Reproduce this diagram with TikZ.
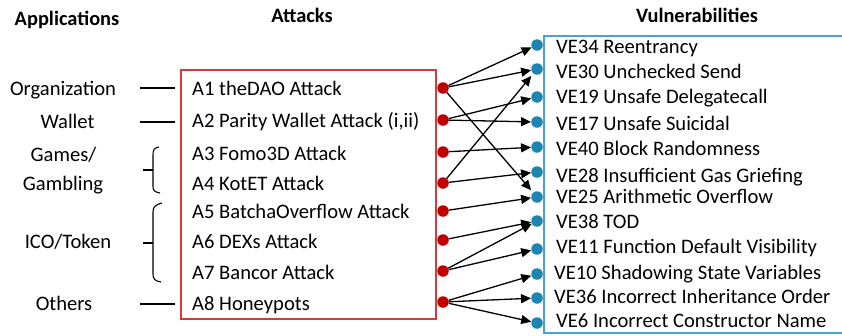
\documentclass[tikz,border=0pt]{standalone}
\usepackage{fontspec}
\setmainfont{Carlito}
\usetikzlibrary{arrows.meta}
\definecolor{rdot}{HTML}{C00000}
\definecolor{rbox}{HTML}{D33B3B}
\definecolor{bdot}{HTML}{1B86B2}
\definecolor{bbox}{HTML}{4AA3C8}
\begin{document}
\begin{tikzpicture}[x=1pt,y=-1pt,
  lbl/.style={font=\fontsize{20.6}{23}\selectfont,inner sep=0pt,anchor=base west},
  clbl/.style={font=\fontsize{20.6}{23}\selectfont,inner sep=0pt,anchor=base},
  ttl/.style={font=\fontsize{20.4}{23}\selectfont\bfseries,inner sep=0pt,anchor=base},
  rd/.style={circle,fill=rdot,inner sep=0pt,minimum size=11.5pt},
  bd/.style={circle,fill=bdot,inner sep=0pt,minimum size=11.5pt},
  arr/.style={line width=1.3pt,-{Triangle[length=10pt,width=9pt]}},
  ln/.style={line width=1.1pt}]
\useasboundingbox (0,0) rectangle (842,335);
% titles
\node[ttl] (tapp) at (67,25) {Applications};
\node[ttl] (tatt) at (302,22) {Attacks};
\node[ttl] (tvul) at (697,22) {Vulnerabilities};
% boxes
\draw[rbox,line width=1.1pt] (181,70) rectangle (436,319);
\draw[bbox,line width=1.3pt] (860,36) -- (544,36) -- (544,333) -- (860,333);
% application labels
\node[clbl] (org) at (63,95) {Organization};
\node[clbl] (wal) at (67.5,128) {Wallet};
\node[clbl] (gam1) at (63.5,161) {Games/};
\node[clbl] (gam2) at (63,190) {Gambling};
\node[clbl] (ico) at (68,248) {ICO/Token};
\node[clbl] (oth) at (64,310) {Others};
\coordinate (o1) at (140,88); \coordinate (o2) at (175,88);
\coordinate (w1) at (140,122); \coordinate (w2) at (175,122);
\coordinate (h1) at (140,304); \coordinate (h2) at (175,304);
\draw[ln] (o1) -- (o2);
\draw[ln] (w1) -- (w2);
\draw[ln] (h1) -- (h2);
% braces
\draw[ln] (159,147) .. controls (154,148) and (153,150) .. (153,155) -- (153,186) .. controls (153,190) and (154,192) .. (160,193);
\draw[ln] (143,170) -- (153,170);
\draw[ln] (162,203) .. controls (155,205) and (153,207) .. (153,212) -- (153,274) .. controls (153,279) and (155,281) .. (161,282);
\draw[line width=1.5pt] (143,243) -- (153,243);
% attacks
\node[lbl] (a1) at (192,95) {A1 theDAO Attack};
\node[lbl] (a2) at (192,127.5) {A2 Parity Wallet Attack (i,ii)};
\node[lbl] (a3) at (192,160) {A3 Fomo3D Attack};
\node[lbl] (a4) at (192,190) {A4 KotET Attack};
\node[lbl] (a5) at (192,218) {A5 BatchaOverflow Attack};
\node[lbl] (a6) at (192,248) {A6 DEXs Attack};
\node[lbl] (a7) at (192,279) {A7 Bancor Attack};
\node[lbl] (a8) at (192,310) {A8 Honeypots};
% red dots
\node[rd] (r1) at (443,88) {};
\node[rd] (r2) at (443,120) {};
\node[rd] (r3) at (443,152) {};
\node[rd] (r4) at (443,183) {};
\node[rd] (r5) at (443,211) {};
\node[rd] (r6) at (443,240) {};
\node[rd] (r7) at (443,271) {};
\node[rd] (r8) at (443,302) {};
% blue dots
\node[bd] (v34) at (537,45) {};
\node[bd] (v30) at (537,69) {};
\node[bd] (v19) at (537,97) {};
\node[bd] (v17) at (537,122) {};
\node[bd] (v40) at (537,147) {};
\node[bd] (v28) at (537,172) {};
\node[bd] (v25) at (537,197) {};
\node[bd] (v38) at (537,221) {};
\node[bd] (v11) at (537,249) {};
\node[bd] (v10) at (537,274) {};
\node[bd] (v36) at (537,298) {};
\node[bd] (v6) at (537,323) {};
% vulnerability labels
\node[lbl] (t34) at (556,53) {VE34 Reentrancy};
\node[lbl] (t30) at (556,78) {VE30 Unchecked Send};
\node[lbl] (t19) at (556,103.5) {VE19 Unsafe Delegatecall};
\node[lbl] (t17) at (556,130) {VE17 Unsafe Suicidal};
\node[lbl] (t40) at (556,155) {VE40 Block Randomness};
\node[lbl] (t28) at (556,182) {VE28 Insufficient Gas Griefing};
\node[lbl] (t25) at (556,203.5) {VE25 Arithmetic Overflow};
\node[lbl] (t38) at (556,228) {VE38 TOD};
\node[lbl] (t11) at (556,253.5) {VE11 Function Default Visibility};
\node[lbl] (t10) at (554,279) {VE10 Shadowing State Variables};
\node[lbl] (t36) at (554,303) {VE36 Incorrect Inheritance Order};
\node[lbl] (t6) at (556,327) {VE6 Incorrect Constructor Name};
% arrows
\draw[arr] (r1) -- (v34);
\draw[arr] (r1) -- (v30);
\draw[arr,shorten >=3pt] (r1) -- (v25);
\draw[arr] (r2) -- (v19);
\draw[arr] (r2) -- (v17);
\draw[arr] (r3) -- (v40);
\draw[arr,shorten >=3pt] (r4) -- (v30);
\draw[arr] (r4) -- (v28);
\draw[arr] (r5) -- (v25);
\draw[arr] (r6) -- (v38);
\draw[arr] (r7) -- (v38);
\draw[arr] (r7) -- (v11);
\draw[arr] (r8) -- (v10);
\draw[arr] (r8) -- (v36);
\draw[arr] (r8) -- (v6);
\end{tikzpicture}
\end{document}
